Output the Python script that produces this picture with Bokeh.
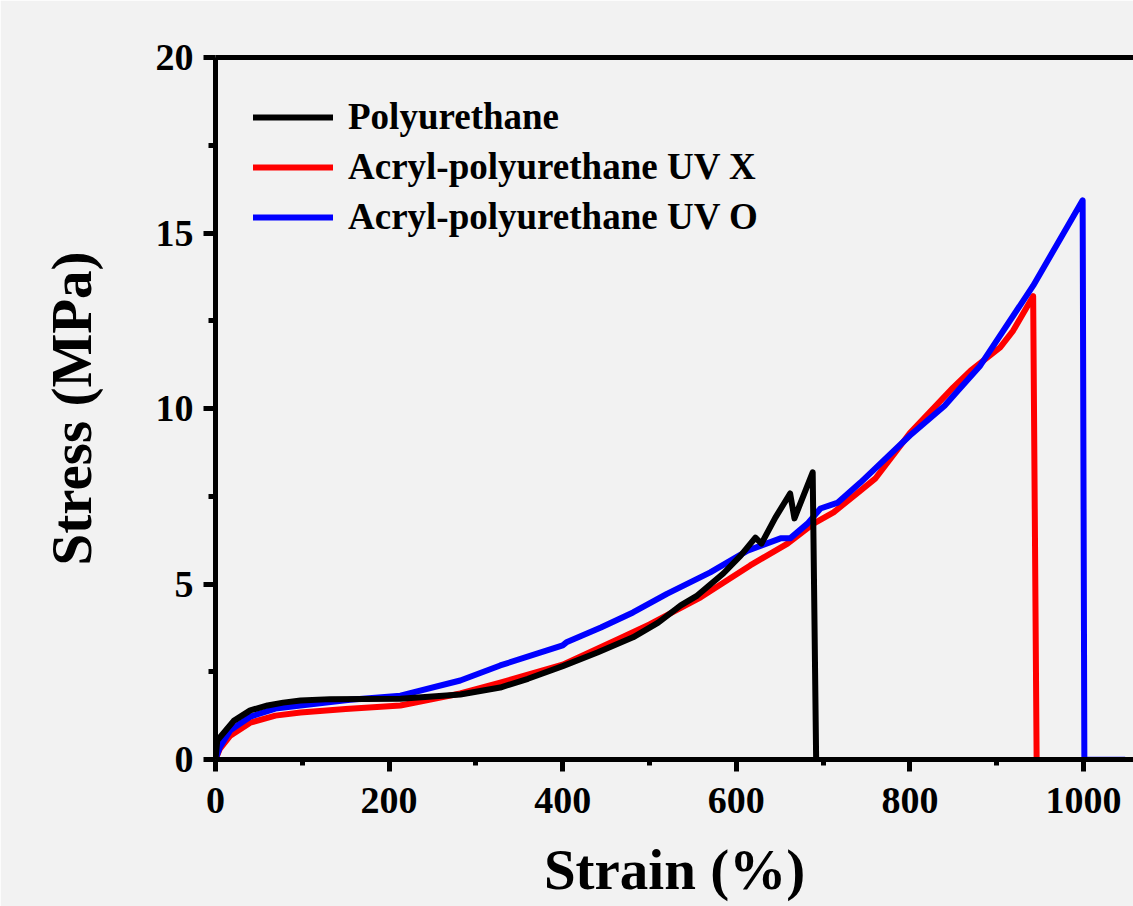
from bokeh.plotting import figure
from bokeh.models import Range1d, LinearAxis, Legend, LegendItem, FixedTicker
from bokeh.embed import file_html
from bokeh.resources import INLINE

# ---- data ----
pu_x = [0, 2, 21, 40, 60, 78, 98, 132, 213, 282, 328, 360, 400, 440, 481, 510, 536, 555, 585, 605, 622, 629, 645, 662, 667, 688, 692]
pu_y = [0, 0.54, 1.1, 1.4, 1.54, 1.62, 1.68, 1.72, 1.73, 1.85, 2.05, 2.3, 2.66, 3.05, 3.48, 3.9, 4.39, 4.67, 5.3, 5.81, 6.32, 6.15, 6.89, 7.58, 6.87, 8.18, 0]

uvx_x = [0, 5, 17, 40, 69, 98, 150, 213, 282, 328, 400, 463, 500, 559, 616, 659, 689, 712, 743, 760, 800, 850, 870, 904, 919, 942, 946]
uvx_y = [0, 0.3, 0.68, 1.05, 1.25, 1.34, 1.44, 1.54, 1.88, 2.19, 2.7, 3.42, 3.85, 4.62, 5.53, 6.15, 6.72, 7.04, 7.66, 8.0, 9.3, 10.6, 11.08, 11.74, 12.22, 13.2, 0]

uvo_x = [0, 5, 17, 40, 69, 98, 155, 213, 282, 328, 400, 405, 444, 481, 520, 570, 613, 651, 662, 682, 697, 717, 743, 800, 840, 855, 881, 942, 999, 1001]
uvo_y = [0, 0.35, 0.83, 1.22, 1.45, 1.54, 1.7, 1.82, 2.25, 2.68, 3.25, 3.35, 3.76, 4.19, 4.72, 5.33, 5.95, 6.3, 6.3, 6.72, 7.15, 7.32, 7.89, 9.23, 10.08, 10.5, 11.22, 13.5, 15.93, 0]
uvo_tail_x = [1001, 1048]
uvo_tail_y = [0.06, 0.06]

labels = ["Polyurethane", "Acryl-polyurethane UV X", "Acryl-polyurethane UV O"]
colors = ["black", "#ff0000", "#0000ff"]
x_ticks = [0, 200, 400, 600, 800, 1000]
y_ticks = [0, 5, 10, 15, 20]
x_title = "Strain (%)"
y_title = "Stress (MPa)"

FONT = "Liberation Serif"
BG = "#f2f2f2"
LW = 6

p = figure(width=1133, height=906, output_backend="svg", toolbar_location=None,
           x_range=Range1d(0, 1057.6), y_range=Range1d(0, 20),
           min_border_left=215, min_border_right=0, min_border_top=57, min_border_bottom=147)
p.background_fill_color = BG
p.border_fill_color = BG
p.outline_line_color = None
p.grid.visible = False

r2 = p.line(uvx_x, uvx_y, line_color=colors[1], line_width=LW, line_join="round", line_cap="round")
r3 = p.line(uvo_x, uvo_y, line_color=colors[2], line_width=LW, line_join="round", line_cap="round")
p.line(uvo_tail_x, uvo_tail_y, line_color=colors[2], line_width=1.5)
r1 = p.line(pu_x, pu_y, line_color=colors[0], line_width=LW, line_join="round", line_cap="round")

legend = Legend(items=[LegendItem(label=labels[0], renderers=[r1]),
                       LegendItem(label=labels[1], renderers=[r2]),
                       LegendItem(label=labels[2], renderers=[r3])],
                location="top_left")
legend.margin = 0
legend.padding = 38
legend.spacing = 7
legend.glyph_width = 80
legend.glyph_height = 36
legend.label_height = 36
legend.label_standoff = 15
legend.label_text_font = FONT
legend.label_text_font_style = "bold"
legend.label_text_font_size = "37px"
legend.label_text_color = "black"
legend.label_text_baseline = "middle"
legend.border_line_alpha = 0
legend.background_fill_alpha = 0
p.add_layout(legend)

for ax in (p.xaxis[0], p.yaxis[0]):
    ax.axis_line_width = 5
    ax.axis_line_color = "black"
    ax.major_tick_line_width = 5
    ax.minor_tick_line_width = 5
    ax.major_tick_in = 0
    ax.minor_tick_in = 0
    ax.major_label_text_font = FONT
    ax.major_label_text_font_style = "bold"
    ax.major_label_text_font_size = "38px"
    ax.major_label_text_color = "black"
    ax.axis_label_text_font = FONT
    ax.axis_label_text_font_style = "bold"
    ax.axis_label_text_font_size = "57px"
    ax.axis_label_text_color = "black"

p.xaxis[0].ticker = FixedTicker(ticks=x_ticks, minor_ticks=[100, 300, 500, 700, 900])
p.yaxis[0].ticker = FixedTicker(ticks=y_ticks, minor_ticks=[2.5, 7.5, 12.5, 17.5])
p.xaxis[0].major_tick_out = 12
p.xaxis[0].minor_tick_out = 6
p.yaxis[0].major_tick_out = 12
p.yaxis[0].minor_tick_out = 7
p.xaxis[0].major_label_standoff = 16
p.yaxis[0].major_label_standoff = 10
p.xaxis[0].axis_label = x_title
p.yaxis[0].axis_label = y_title
p.xaxis[0].axis_label_standoff = 22
p.yaxis[0].axis_label_standoff = 50

top = LinearAxis(axis_line_width=5, axis_line_color="black",
                 major_tick_in=0, major_tick_out=0, minor_tick_in=0, minor_tick_out=0,
                 major_label_text_font_size="0px", major_label_standoff=0)
top.ticker = FixedTicker(ticks=[])
p.add_layout(top, "above")

open("out.html", "w").write(file_html(p, INLINE))
